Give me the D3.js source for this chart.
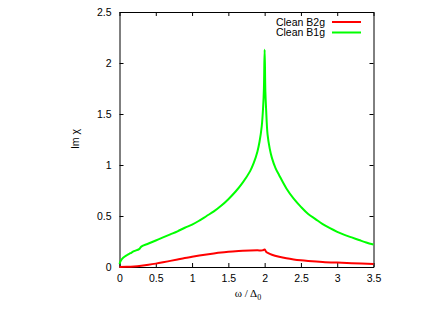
<!DOCTYPE html>
<html><head><meta charset="utf-8">
<script src="https://cdn.jsdelivr.net/npm/d3@7"></script>
<style>body{margin:0;background:#fff}svg{display:block;font-family:"Liberation Sans",Arial,sans-serif}</style>
</head><body><svg id="c" width="445" height="312"></svg>
<script>
const b1gOmega = [0,0.02,0.05,0.1,0.15,0.2,0.27,0.3,0.4,0.5,0.6,0.7,0.8,0.9,1.0,1.1,1.2,1.3,1.4,1.5,1.6,1.7,1.8,1.85,1.9,1.93,1.96,1.98,1.99,2.0,2.01,2.02,2.04,2.07,2.1,2.15,2.2,2.3,2.4,2.5,2.6,2.7,2.8,2.9,3.0,3.1,3.2,3.3,3.4,3.5];
const b1gValues = [0.03,0.065,0.09,0.115,0.135,0.155,0.175,0.2,0.23,0.26,0.29,0.32,0.35,0.385,0.415,0.455,0.5,0.545,0.6,0.665,0.74,0.83,0.94,1.02,1.13,1.23,1.38,1.58,1.75,2.13,1.72,1.55,1.3,1.16,1.07,0.97,0.9,0.77,0.67,0.59,0.52,0.47,0.42,0.38,0.345,0.315,0.29,0.265,0.24,0.22];
const b2gOmega = [0,0.1,0.2,0.3,0.4,0.5,0.6,0.7,0.8,0.9,1.0,1.1,1.2,1.3,1.4,1.5,1.6,1.7,1.8,1.9,1.97,2.0,2.02,2.05,2.1,2.2,2.3,2.4,2.5,2.6,2.8,3.0,3.2,3.5];
const b2gValues = [0,0.002,0.006,0.013,0.022,0.033,0.046,0.06,0.074,0.088,0.1,0.112,0.123,0.133,0.142,0.149,0.155,0.159,0.162,0.163,0.163,0.172,0.15,0.135,0.12,0.1,0.085,0.074,0.066,0.06,0.05,0.043,0.037,0.03];
const xTicks = [0,0.5,1,1.5,2,2.5,3,3.5];
const yTicks = [0,0.5,1,1.5,2,2.5];
const seriesNames = ["Clean B2g","Clean B1g"];
const seriesColors = ["#ff0000","#00ff00"];

const svg = d3.select("#c");
const L=119.5, R=373.5, T=12, B=267;
const x = d3.scaleLinear().domain([0,3.5]).range([L,R]);
const y = d3.scaleLinear().domain([0,2.5]).range([B,T]);
const fmt = d => String(d);

const styleAxis = g => { g.selectAll("path,line").attr("stroke","#000").attr("stroke-width",1);
  g.selectAll("text").attr("font-size",10.5).attr("fill","#000").attr("font-family","Liberation Sans, Arial, sans-serif"); };

svg.append("g").attr("transform",`translate(0,${B})`)
  .call(d3.axisBottom(x).tickValues(xTicks).tickFormat(fmt).tickSizeInner(-4).tickSizeOuter(0).tickPadding(8))
  .call(styleAxis);
svg.append("g").attr("transform",`translate(0,${T})`)
  .call(d3.axisTop(x).tickValues(xTicks).tickFormat("").tickSizeInner(-4).tickSizeOuter(0))
  .call(styleAxis);
svg.append("g").attr("transform",`translate(${L},0)`)
  .call(d3.axisLeft(y).tickValues(yTicks).tickFormat(fmt).tickSizeInner(-4).tickSizeOuter(0).tickPadding(8))
  .call(styleAxis);
svg.append("g").attr("transform",`translate(${R},0)`)
  .call(d3.axisRight(y).tickValues(yTicks).tickFormat("").tickSizeInner(-4).tickSizeOuter(0))
  .call(styleAxis);

const line = d3.line().x(d=>x(d[0])).y(d=>y(d[1])).curve(d3.curveCatmullRom.alpha(0.5));
const b2g = b2gOmega.map((w,i)=>[w,b2gValues[i]]);
const b1g = b1gOmega.map((w,i)=>[w,b1gValues[i]]);
svg.append("path").datum(b2g).attr("d",line).attr("fill","none").attr("stroke",seriesColors[0]).attr("stroke-width",2).attr("stroke-linejoin","round");
svg.append("path").datum(b1g).attr("d",line).attr("fill","none").attr("stroke",seriesColors[1]).attr("stroke-width",2).attr("stroke-linejoin","round");

// legend
seriesNames.forEach((n,i)=>{
  const yy = 22 + i*10.5;
  svg.append("text").attr("x",325).attr("y",yy+3.6).attr("text-anchor","end").attr("font-size",10.5).text(n);
  svg.append("line").attr("x1",332).attr("x2",361).attr("y1",yy).attr("y2",yy).attr("stroke",seriesColors[i]).attr("stroke-width",2);
});

// axis labels
const xl = svg.append("text").attr("x",248).attr("y",297).attr("text-anchor","middle").attr("font-size",11).attr("font-family","Liberation Serif, Times New Roman, serif");
xl.append("tspan").text("ω / Δ");
xl.append("tspan").attr("font-size",8).attr("dy",2.5).text("0");
svg.append("text").attr("transform","translate(79,139) rotate(-90)").attr("text-anchor","middle").attr("font-size",10.5).text("Im χ");
</script></body></html>
